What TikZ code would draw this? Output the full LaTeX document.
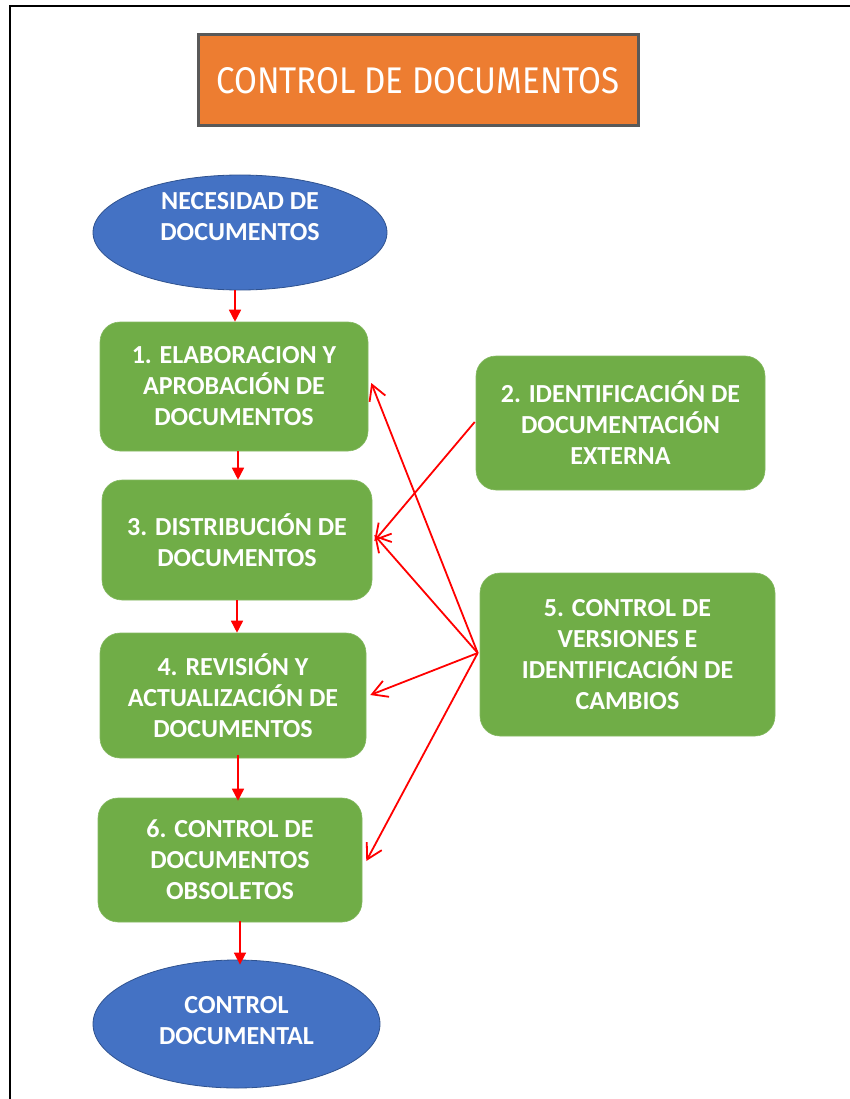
\documentclass[tikz,border=0pt]{standalone}
\usepackage{fontspec}
\setmainfont{Carlito}
\newfontfamily\titlefont{Fira Sans}
\usetikzlibrary{arrows.meta,shapes.geometric}
\definecolor{cgreen}{HTML}{70AD47}
\definecolor{cblue}{HTML}{4472C4}
\definecolor{cblueedge}{HTML}{2F528F}
\definecolor{corange}{HTML}{ED7D31}
\definecolor{cgray}{HTML}{595959}
\definecolor{cred}{HTML}{FF0000}
\tikzset{
  boxtext/.style={text=white, font=\bfseries\fontsize{26}{31}\selectfont, align=center, inner sep=0pt},
  greenbox/.style={boxtext, rectangle, rounded corners=20pt, fill=cgreen, draw=cgreen!85!white, line width=0.6pt},
  blueellipse/.style={boxtext, ellipse, fill=cblue, draw=cblueedge, line width=0.8pt},
  titlebox/.style={rectangle, fill=corange, draw=cgray, line width=3pt, inner sep=0pt, text=white},
  flowarrow/.style={draw=cred, line width=1.6pt, -{Triangle[width=12pt,length=12pt]}},
  linkarrow/.style={draw=cred, line width=1.8pt, -{Straight Barb[length=15pt,width=17pt,line width=1.8pt]}},
  frameline/.style={draw=black, line width=2pt}
}
\begin{document}
\begin{tikzpicture}[x=1pt,y=-1pt]
\useasboundingbox (0,0) rectangle (850,1099);
% page frame
\coordinate (fbl) at (10,1099);
\coordinate (ftl) at (10,6);
\coordinate (ftr) at (850,6);
\draw[frameline] (fbl) -- (ftl) -- (ftr);
% title
\node[titlebox, minimum width=440pt, minimum height=91pt] (title) at (418,80.5)
  {\raisebox{-2pt}{\resizebox{403pt}{26pt}{\titlefont CONTROL DE DOCUMENTOS}}};
% nodes
\node[blueellipse, minimum width=294pt, minimum height=115pt, text depth=32pt] (e1) at (240,232.5)
  {NECESIDAD DE\\DOCUMENTOS};
\node[greenbox, minimum width=268pt, minimum height=129pt] (b1) at (234,386.5)
  {1. ELABORACION Y\\APROBACIÓN DE\\DOCUMENTOS};
\node[greenbox, minimum width=289pt, minimum height=134pt] (b2) at (620.5,423)
  {2. IDENTIFICACIÓN DE\\DOCUMENTACIÓN\\EXTERNA};
\node[greenbox, minimum width=270pt, minimum height=120pt] (b3) at (237,540)
  {3. DISTRIBUCIÓN DE\\DOCUMENTOS};
\node[greenbox, minimum width=266pt, minimum height=125pt] (b4) at (233,695.5)
  {4. REVISIÓN Y\\ACTUALIZACIÓN DE\\DOCUMENTOS};
\node[greenbox, minimum width=295pt, minimum height=163pt] (b5) at (627.5,654.5)
  {5. CONTROL DE\\VERSIONES E\\IDENTIFICACIÓN DE\\CAMBIOS};
\node[greenbox, minimum width=264pt, minimum height=124pt] (b6) at (230,860)
  {6. CONTROL DE\\DOCUMENTOS\\OBSOLETOS};
\node[blueellipse, minimum width=287pt, minimum height=128pt, text depth=7pt] (e2) at (236.5,1024)
  {CONTROL\\DOCUMENTAL};
% vertical flow arrows
\draw[flowarrow] ([xshift=-5pt]e1.south) -- ([xshift=1pt]b1.north);
\draw[flowarrow] ([xshift=4pt]b1.south) -- ([xshift=1pt]b3.north);
\draw[flowarrow] (b3.south) -- ([xshift=4pt]b4.north);
\draw[flowarrow] ([xshift=5pt,yshift=3pt]b4.south) -- ([xshift=8pt,yshift=-3pt]b6.north);
\draw[flowarrow] ([xshift=10pt,yshift=1pt]b6.south) -- ([xshift=3.5pt,yshift=-5pt]e2.north);
% links
\draw[linkarrow] ([xshift=-1pt,yshift=1pt]b2.west) -- ([xshift=2pt,yshift=-1pt]b3.east);
\draw[linkarrow] ([xshift=-2pt,yshift=1.5pt]b5.west) -- ([xshift=3pt,yshift=3.5pt]b1.east);
\draw[linkarrow] ([xshift=-2pt,yshift=1.5pt]b5.west) -- ([xshift=2pt,yshift=5pt]b3.east);
\draw[linkarrow] ([xshift=-2pt,yshift=1.5pt]b5.west) -- ([xshift=4pt,yshift=0.5pt]b4.east);
\draw[linkarrow] ([xshift=-2pt,yshift=1.5pt]b5.west) -- ([xshift=4pt,yshift=-1pt]b6.east);
\end{tikzpicture}
\end{document}
